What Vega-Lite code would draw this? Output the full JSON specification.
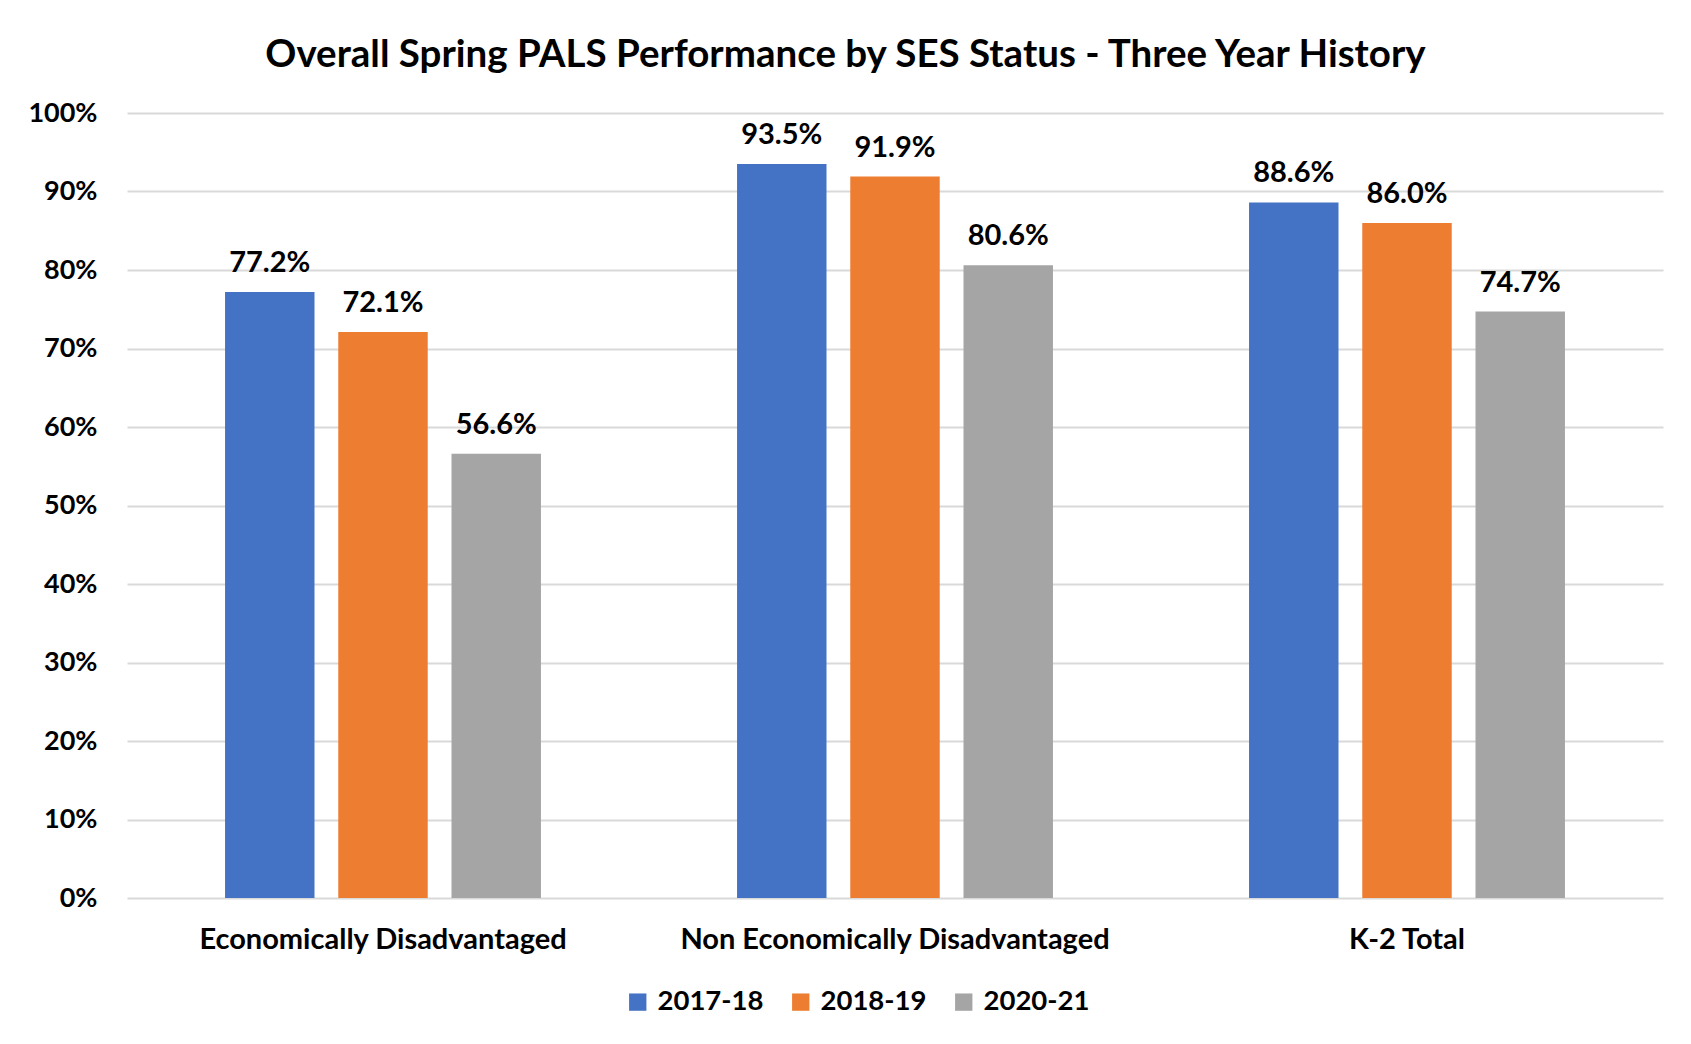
{
  "$schema": "https://vega.github.io/schema/vega-lite/v6.json",
  "width": 1536,
  "height": 785,
  "autosize": {"type": "none"},
  "padding": {"left": 127, "top": 113, "right": 28, "bottom": 146},
  "background": "white",
  "config": {
    "font": "Lato",
    "view": {"stroke": null}
  },
  "title": {
    "text": "Overall Spring PALS Performance by SES Status - Three Year History",
    "font": "Lato",
    "fontSize": 38.5,
    "fontWeight": "bold",
    "color": "#000000",
    "anchor": "middle",
    "frame": "bounds",
    "offset": 24
  },
  "data": {
    "values": [
      {"group": "Economically Disadvantaged", "year": "2017-18", "value": 0.772},
      {"group": "Economically Disadvantaged", "year": "2018-19", "value": 0.721},
      {"group": "Economically Disadvantaged", "year": "2020-21", "value": 0.566},
      {"group": "Non Economically Disadvantaged", "year": "2017-18", "value": 0.935},
      {"group": "Non Economically Disadvantaged", "year": "2018-19", "value": 0.919},
      {"group": "Non Economically Disadvantaged", "year": "2020-21", "value": 0.806},
      {"group": "K-2 Total", "year": "2017-18", "value": 0.886},
      {"group": "K-2 Total", "year": "2018-19", "value": 0.860},
      {"group": "K-2 Total", "year": "2020-21", "value": 0.747}
    ]
  },
  "encoding": {
    "x": {
      "field": "group",
      "type": "nominal",
      "sort": ["Economically Disadvantaged", "Non Economically Disadvantaged", "K-2 Total"],
      "scale": {"paddingInner": 0.383, "paddingOuter": 0.1915},
      "axis": {
        "title": null,
        "labelAngle": 0,
        "labelFont": "Lato",
        "labelFontSize": 29,
        "labelFontWeight": "bold",
        "labelColor": "#000000",
        "labelPadding": 27,
        "labelLimit": 0,
        "ticks": false,
        "domain": false,
        "grid": false
      }
    },
    "xOffset": {
      "field": "year",
      "type": "nominal",
      "scale": {"paddingInner": 0.21, "paddingOuter": 0}
    },
    "y": {
      "field": "value",
      "type": "quantitative",
      "scale": {"domain": [0, 1], "nice": false},
      "axis": {
        "title": null,
        "format": ".0%",
        "values": [0, 0.1, 0.2, 0.3, 0.4, 0.5, 0.6, 0.7, 0.8, 0.9, 1.0],
        "labelFont": "Lato",
        "labelFontSize": 27,
        "labelFontWeight": "bold",
        "labelColor": "#000000",
        "labelPadding": 30,
        "ticks": false,
        "domain": false,
        "grid": true,
        "gridColor": "#d9d9d9",
        "gridWidth": 2
      }
    }
  },
  "layer": [
    {
      "mark": {"type": "bar"},
      "encoding": {
        "color": {
          "field": "year",
          "type": "nominal",
          "scale": {"domain": ["2017-18", "2018-19", "2020-21"], "range": ["#4472C4", "#ED7D31", "#A5A5A5"]},
          "legend": {
            "title": null,
            "orient": "none",
            "direction": "horizontal",
            "legendX": 497,
            "legendY": 875,
            "symbolType": "square",
            "symbolSize": 300,
            "symbolStrokeWidth": 0,
            "labelFont": "Lato",
            "labelFontSize": 27.5,
            "labelFontWeight": "bold",
            "labelColor": "#000000",
            "labelOffset": 6,
            "columnPadding": 23
          }
        }
      }
    },
    {
      "mark": {
        "type": "text",
        "baseline": "middle",
        "dy": -29,
        "font": "Lato",
        "fontSize": 29,
        "fontWeight": "bold",
        "color": "#000000"
      },
      "encoding": {
        "text": {"field": "value", "type": "quantitative", "format": ".1%"}
      }
    }
  ]
}
